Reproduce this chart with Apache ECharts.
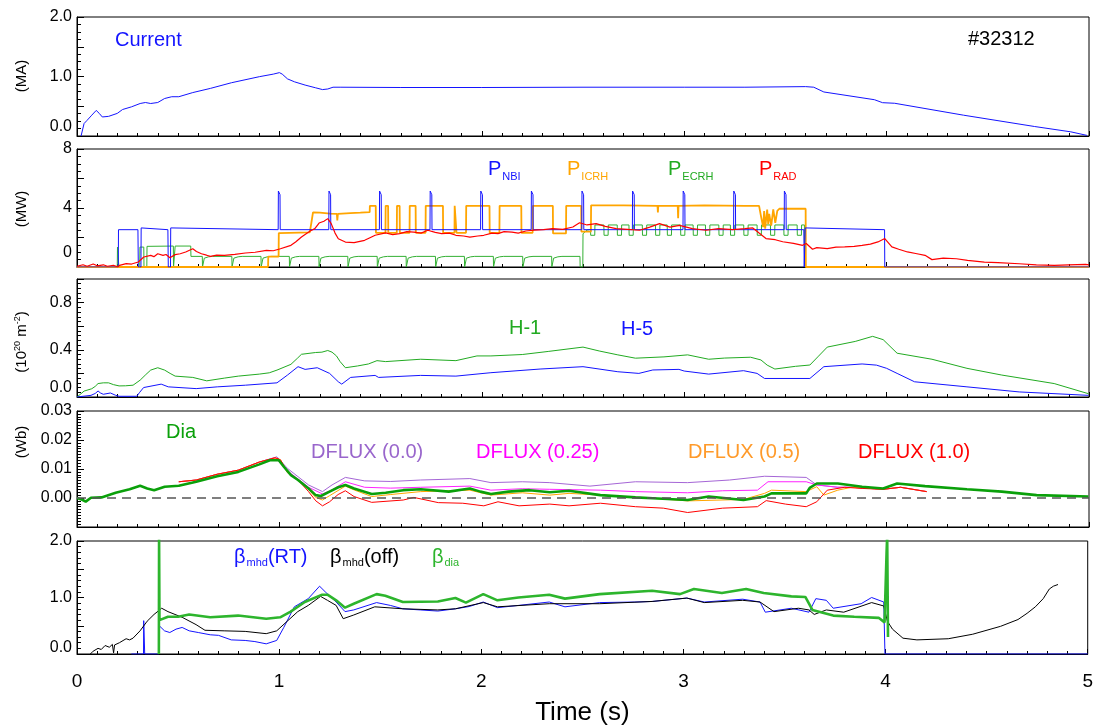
<!DOCTYPE html>
<html><head><meta charset="utf-8">
<script src="https://cdn.jsdelivr.net/npm/echarts@6/dist/echarts.min.js"></script>
<style>html,body{margin:0;padding:0;background:#fff}#c{width:1096px;height:727px}</style>
</head><body><div id="c"></div>
<script>
// ---------- tick labels ----------
const timeTicks = ['0','1','2','3','4','5'];
const p1Labels = ['0.0','1.0','2.0'];
const p2Labels = ['0','4','8'];
const p3Labels = ['0.0','0.4','0.8'];
const p4Labels = ['0.00','0.01','0.02','0.03'];
const p5Labels = ['0.0','1.0','2.0'];

// ---------- panel 1: plasma current (MA) ----------
const current = [[0.02,0],[0.035,0.21],[0.049,0.26],[0.073,0.35],[0.095,0.43],[0.11,0.38],[0.125,0.32],[0.156,0.33],[0.199,0.38],[0.225,0.445],[0.269,0.49],[0.312,0.546],[0.338,0.563],[0.364,0.546],[0.399,0.563],[0.433,0.63],[0.468,0.66],[0.503,0.66],[0.572,0.73],[0.659,0.80],[0.763,0.895],[0.901,0.997],[0.97,1.04],[1.0,1.065],[1.014,1.04],[1.04,0.96],[1.075,0.91],[1.127,0.856],[1.179,0.81],[1.213,0.78],[1.239,0.79],[1.265,0.82],[1.30,0.82],[1.6,0.815],[2.0,0.815],[2.5,0.82],[3.0,0.82],[3.3,0.82],[3.60,0.83],[3.64,0.82],[3.69,0.74],[3.94,0.61],[3.98,0.56],[4.04,0.55],[4.38,0.35],[4.73,0.16],[4.91,0.07],[4.99,0.01]];

// ---------- panel 2: heating powers (MW) ----------
const nbiLevel = 2.53;
const nbiSpikeTop = 5.15;
const nbiStart = 0.205;
const nbiEnd = 3.99;
const nbiSpikes = [0.995,1.245,1.495,1.745,1.995,2.245,2.495,2.745,2.995,3.245,3.495];
const nbiGaps = [[0.303,0.316],[0.451,0.462],[3.593,3.597]];

const icrh = [[0,0],[0.944,0],[0.945,0.7],[0.996,0.7],[0.997,2.3],[1.15,2.35],[1.158,3.0],[1.166,3.7],[1.2,3.68],[1.25,3.62],[1.284,3.6],[1.286,3.15],[1.289,3.6],[1.35,3.65],[1.4,3.68],[1.446,3.72],[1.447,4.15],[1.476,4.15],[1.477,2.32],[1.524,2.32],[1.525,4.15],[1.537,4.15],[1.538,2.32],[1.580,2.32],[1.581,4.15],[1.594,4.15],[1.595,2.32],[1.643,2.32],[1.644,4.15],[1.673,4.15],[1.674,2.32],[1.722,2.32],[1.723,4.15],[1.808,4.15],[1.809,2.32],[1.865,2.32],[1.866,4.15],[1.874,4.15],[1.875,2.32],[1.922,2.32],[1.923,4.15],[2.038,4.15],[2.039,2.32],[2.087,2.32],[2.088,4.15],[2.195,4.15],[2.196,2.32],[2.251,2.32],[2.252,4.15],[2.351,4.15],[2.352,2.28],[2.416,2.28],[2.417,4.15],[2.491,4.15],[2.492,2.4],[2.539,2.4],[2.54,4.18],[2.7,4.18],[2.868,4.15],[2.87,3.7],[2.872,4.15],[2.968,4.15],[2.97,3.3],[2.972,4.15],[3.1,4.18],[3.3,4.15],[3.37,4.15],[3.38,3.4],[3.39,2.7],[3.395,3.8],[3.40,2.6],[3.41,3.9],[3.415,2.9],[3.42,3.6],[3.43,2.8],[3.44,3.9],[3.45,3.0],[3.46,3.8],[3.47,3.95],[3.6,3.95],[3.601,0],[5,0]];

const ecrhEarly = [[0,0],[0.199,0],[0.2,1.35],[0.206,1.35],[0.207,0],[0.31,0],[0.311,1.35],[0.33,1.35],[0.331,0],[0.345,0],[0.346,1.4],[0.476,1.42],[0.477,0],[0.484,0],[0.485,1.42],[0.562,1.42],[0.563,0.72]];
const ecrhLowLevel = 0.72;
const ecrhLowDrops = [0.620,0.766,0.910,1.050,1.196,1.339,1.484,1.627,1.772,1.915,2.058,2.203,2.346,2.486];
const ecrhMid = [[2.499,0],[2.5,2.26],[2.52,2.5],[2.537,2.55]];
const ecrhHigh = 2.85;
const ecrhHighLow = 2.15;
const ecrhHighDips = [2.548,2.614,2.680,2.738,2.804,2.869,2.927,2.993,3.055,3.116,3.182,3.239,3.305,3.371,3.437,3.503,3.569];
const ecrhEnd = [[3.594,2.85],[3.595,0],[5,0]];

const rad = [[0,0.05],[0.03,0.15],[0.05,0.05],[0.08,0.2],[0.1,0.08],[0.13,0.15],[0.15,0.05],[0.18,0.12],[0.2,0.02],[0.21,0.11],[0.243,0.23],[0.27,0.2],[0.303,0.34],[0.33,0.68],[0.364,0.79],[0.38,0.7],[0.399,0.9],[0.425,0.79],[0.44,0.85],[0.459,0.63],[0.485,0.84],[0.51,0.9],[0.537,1.02],[0.572,1.24],[0.59,1.05],[0.615,0.9],[0.64,0.8],[0.659,0.72],[0.69,0.8],[0.728,0.79],[0.78,0.85],[0.832,0.95],[0.88,1.0],[0.936,1.13],[0.97,1.1],[1.005,1.24],[1.057,1.47],[1.08,1.7],[1.109,2.03],[1.152,2.44],[1.175,2.6],[1.196,2.98],[1.22,3.1],[1.239,3.28],[1.256,2.94],[1.275,2.3],[1.291,1.92],[1.326,1.69],[1.369,1.65],[1.421,1.81],[1.45,2.0],[1.473,2.15],[1.525,2.31],[1.56,2.2],[1.594,2.26],[1.63,2.4],[1.664,2.37],[1.7,2.3],[1.733,2.49],[1.77,2.35],[1.802,2.26],[1.84,2.3],[1.872,2.15],[1.91,2.1],[1.941,2.03],[1.98,2.1],[2.01,2.15],[2.05,2.3],[2.08,2.26],[2.11,2.4],[2.149,2.37],[2.18,2.3],[2.218,2.44],[2.26,2.5],[2.305,2.53],[2.35,2.6],[2.4,2.55],[2.45,2.71],[2.483,3.0],[2.52,2.85],[2.565,2.94],[2.61,2.75],[2.664,2.6],[2.72,2.55],[2.779,2.49],[2.83,2.7],[2.878,2.94],[2.93,2.7],[2.977,2.82],[3.04,2.6],[3.108,2.49],[3.17,2.6],[3.24,2.53],[3.3,2.6],[3.339,2.65],[3.37,2.3],[3.404,1.93],[3.45,1.85],[3.487,1.71],[3.54,1.6],[3.585,1.47],[3.603,1.59],[3.634,1.2],[3.655,1.31],[3.707,1.24],[3.75,1.35],[3.793,1.36],[3.84,1.4],[3.879,1.47],[3.92,1.55],[3.957,1.7],[3.991,1.93],[4.026,1.36],[4.06,1.2],[4.103,1.02],[4.15,0.9],[4.19,0.79],[4.224,0.5],[4.28,0.6],[4.345,0.56],[4.4,0.45],[4.483,0.33],[4.55,0.3],[4.655,0.22],[4.74,0.15],[4.828,0.11],[4.9,0.15],[4.983,0.18],[5,0.15]];

// ---------- panel 3: line densities (1e20 m^-2) ----------
const h1 = [[0,0],[0.035,0.05],[0.073,0.07],[0.09,0.09],[0.104,0.114],[0.13,0.12],[0.156,0.12],[0.18,0.105],[0.208,0.094],[0.24,0.095],[0.277,0.1],[0.312,0.143],[0.34,0.19],[0.364,0.228],[0.399,0.248],[0.433,0.228],[0.46,0.2],[0.485,0.177],[0.572,0.166],[0.641,0.137],[0.728,0.16],[0.797,0.177],[0.901,0.194],[0.95,0.205],[0.988,0.228],[1.057,0.277],[1.09,0.33],[1.109,0.362],[1.179,0.377],[1.21,0.38],[1.239,0.394],[1.26,0.38],[1.282,0.348],[1.3,0.3],[1.326,0.248],[1.386,0.263],[1.44,0.28],[1.482,0.308],[1.525,0.3],[1.698,0.32],[1.872,0.308],[1.976,0.348],[2.045,0.348],[2.2,0.36],[2.328,0.386],[2.5,0.423],[2.58,0.39],[2.672,0.357],[2.759,0.329],[2.9,0.34],[3.017,0.357],[3.121,0.32],[3.2,0.33],[3.328,0.337],[3.379,0.314],[3.41,0.27],[3.448,0.237],[3.55,0.26],[3.621,0.271],[3.66,0.34],[3.707,0.423],[3.845,0.471],[3.931,0.514],[3.983,0.486],[4.052,0.371],[4.224,0.32],[4.397,0.243],[4.569,0.186],[4.828,0.114],[4.997,0.028]];
const h5 = [[0,0],[0.069,0.014],[0.09,0.03],[0.104,0.051],[0.115,0.035],[0.13,0.023],[0.165,0.034],[0.19,0.015],[0.208,0.006],[0.295,0.006],[0.31,0.04],[0.329,0.08],[0.416,0.109],[0.451,0.086],[0.589,0.071],[0.693,0.086],[0.832,0.1],[0.988,0.12],[1.04,0.186],[1.092,0.257],[1.127,0.234],[1.187,0.248],[1.248,0.2],[1.291,0.129],[1.308,0.109],[1.352,0.166],[1.473,0.183],[1.49,0.166],[1.698,0.183],[1.872,0.177],[2.045,0.206],[2.288,0.237],[2.5,0.257],[2.672,0.214],[2.776,0.2],[2.845,0.229],[2.974,0.234],[3.0,0.22],[3.121,0.194],[3.293,0.223],[3.36,0.2],[3.397,0.157],[3.621,0.157],[3.69,0.257],[3.879,0.28],[3.95,0.27],[4.0,0.243],[4.052,0.2],[4.138,0.129],[4.397,0.086],[4.655,0.043],[4.997,0.014]];

// ---------- panel 4: diamagnetic flux (Wb) ----------
const dia = [[0,0],[0.026,-0.0006],[0.043,-0.00126],[0.069,0.0001],[0.121,0.0002],[0.191,0.0018],[0.26,0.003],[0.312,0.0042],[0.347,0.0033],[0.381,0.0027],[0.433,0.0039],[0.503,0.0042],[0.589,0.0056],[0.693,0.0075],[0.797,0.009],[0.901,0.0116],[0.953,0.013],[0.997,0.013],[1.023,0.0107],[1.057,0.0079],[1.092,0.0062],[1.144,0.0033],[1.179,0.001],[1.205,0.0007],[1.248,0.0022],[1.291,0.0037],[1.326,0.0045],[1.369,0.0033],[1.456,0.0014],[1.525,0.0018],[1.612,0.0027],[1.698,0.003],[1.837,0.0022],[1.941,0.0033],[1.993,0.0022],[2.045,0.0014],[2.132,0.0022],[2.236,0.0027],[2.336,0.002],[2.431,0.0025],[2.586,0.001],[2.759,0.0002],[2.845,-0.0001],[3.017,-0.0007],[3.121,0.0005],[3.293,-0.0007],[3.397,0.0005],[3.431,0.0016],[3.603,0.0016],[3.62,0.0035],[3.655,0.005],[3.759,0.005],[3.879,0.0039],[3.983,0.0033],[4.052,0.005],[4.19,0.0041],[4.397,0.003],[4.569,0.0022],[4.741,0.001],[4.997,0.0005]];
const dfRamp = [[0.503,0.0056],[0.589,0.0062],[0.693,0.0082],[0.797,0.0096],[0.901,0.0124]];
const df10 = [[0.979,0.0139],[1.005,0.0132],[1.04,0.009],[1.092,0.0062],[1.144,0.0022],[1.18,-0.001],[1.213,-0.0027],[1.248,-0.0013],[1.29,0.0012],[1.326,0.0025],[1.369,0.0005],[1.456,-0.0015],[1.612,-0.0007],[1.664,0.0002],[1.785,-0.0016],[1.906,-0.0018],[2.01,-0.0027],[2.08,-0.0013],[2.184,-0.0027],[2.336,-0.0021],[2.431,-0.0027],[2.586,-0.0018],[2.759,-0.003],[2.897,-0.0035],[3.017,-0.005],[3.19,-0.0035],[3.362,-0.003],[3.405,-0.0009],[3.5,-0.0021],[3.603,-0.003],[3.655,-0.0013],[3.707,0.0027],[3.793,0.0037],[3.879,0.0033],[3.983,0.003],[4.069,0.0037],[4.198,0.0022]];
const df05 = [[0.979,0.0138],[1.005,0.0132],[1.04,0.0087],[1.092,0.0062],[1.144,0.003],[1.179,0.0002],[1.213,-0.0007],[1.248,0.0008],[1.326,0.0041],[1.369,0.0028],[1.456,0.0005],[1.55,0.0012],[1.698,0.0022],[1.941,0.0027],[2.045,0.001],[2.2,0.0018],[2.336,0.001],[2.431,0.0016],[2.586,0.001],[2.845,-0.0001],[3.017,-0.001],[3.293,-0.0005],[3.397,0.0016],[3.431,0.0027],[3.603,0.0022],[3.655,0.0039],[3.69,0.001],[3.759,0.0027],[3.828,0.0037],[3.983,0.003],[4.069,0.0037],[4.198,0.0022]];
const df025 = [[0.979,0.0139],[0.988,0.0139],[1.04,0.0094],[1.144,0.0037],[1.213,0.0014],[1.26,0.0028],[1.326,0.0056],[1.421,0.0037],[1.55,0.0034],[1.698,0.0037],[1.941,0.0041],[2.045,0.0027],[2.2,0.0032],[2.336,0.003],[2.586,0.0027],[2.759,0.0022],[3.017,0.0018],[3.19,0.0025],[3.362,0.0027],[3.414,0.0056],[3.603,0.0056],[3.655,0.0045],[3.759,0.0037],[3.828,0.0037],[3.983,0.003],[4.069,0.0037],[4.198,0.0022]];
const df00 = [[0.988,0.0142],[1.04,0.0102],[1.144,0.0045],[1.213,0.0022],[1.26,0.0045],[1.326,0.0071],[1.421,0.0059],[1.55,0.0057],[1.698,0.0062],[1.941,0.0067],[2.045,0.0053],[2.2,0.0056],[2.336,0.0053],[2.534,0.0041],[2.759,0.0056],[3.017,0.0053],[3.224,0.0062],[3.397,0.0075],[3.603,0.0071],[3.655,0.0045],[3.759,0.0037],[3.828,0.0037],[3.983,0.003],[4.069,0.0037],[4.198,0.0022]];

// ---------- panel 5: beta ----------
const betaRT = [[0.269,0],[0.329,0],[0.33,0.59],[0.334,0.59],[0.335,0],[0.405,0],[0.407,0.5],[0.433,0.41],[0.459,0.38],[0.49,0.44],[0.52,0.47],[0.555,0.41],[0.6,0.38],[0.659,0.34],[0.7,0.33],[0.763,0.25],[0.832,0.24],[0.88,0.22],[0.936,0.18],[0.988,0.24],[1.023,0.47],[1.075,0.835],[1.144,0.98],[1.2,1.2],[1.231,1.09],[1.282,0.92],[1.326,0.75],[1.369,0.78],[1.482,0.91],[1.55,0.86],[1.612,0.8],[1.698,0.78],[1.785,0.76],[1.872,0.8],[1.94,0.84],[2.01,0.92],[2.08,0.82],[2.184,0.86],[2.336,0.92],[2.414,0.835],[2.586,0.91],[2.759,0.92],[2.845,0.93],[3.017,0.99],[3.103,0.92],[3.293,0.97],[3.379,0.92],[3.405,0.74],[3.534,0.81],[3.621,0.74],[3.655,0.98],[3.707,0.95],[3.741,0.81],[3.879,0.89],[3.931,1.0],[3.991,0.92],[3.997,0],[5,0]];
const betaOff = [[0.066,0],[0.08,0.05],[0.104,0.1],[0.12,0.08],[0.139,0.15],[0.16,0.12],[0.175,0.17],[0.181,0.02],[0.186,0.16],[0.191,0.18],[0.21,0.2],[0.243,0.27],[0.26,0.25],[0.277,0.28],[0.312,0.41],[0.347,0.58],[0.381,0.7],[0.419,0.81],[0.45,0.75],[0.52,0.65],[0.589,0.52],[0.633,0.42],[0.728,0.41],[0.832,0.4],[0.936,0.36],[0.988,0.41],[1.04,0.58],[1.092,0.75],[1.144,0.86],[1.205,1.02],[1.239,0.95],[1.282,0.86],[1.317,0.625],[1.369,0.69],[1.473,0.835],[1.612,0.8],[1.785,0.78],[1.872,0.8],[2.01,0.91],[2.08,0.835],[2.336,0.89],[2.586,0.89],[2.845,0.93],[3.017,0.99],[3.103,0.91],[3.293,0.95],[3.379,0.92],[3.448,0.75],[3.569,0.81],[3.621,0.78],[3.647,0.7],[3.707,0.78],[3.793,0.74],[3.931,0.91],[3.991,0.85],[4.009,0.58],[4.034,0.44],[4.086,0.28],[4.155,0.25],[4.31,0.27],[4.431,0.35],[4.569,0.49],[4.655,0.61],[4.7,0.72],[4.741,0.835],[4.78,0.98],[4.81,1.15],[4.83,1.2],[4.853,1.23]];
const betaDia = [[0.405,0],[0.406,2.1],[0.408,0.6],[0.45,0.66],[0.5,0.66],[0.555,0.7],[0.659,0.65],[0.797,0.68],[0.936,0.625],[1.005,0.65],[1.057,0.75],[1.127,0.92],[1.213,1.05],[1.239,1.05],[1.282,0.95],[1.326,0.82],[1.369,0.89],[1.482,1.06],[1.525,1.03],[1.612,0.92],[1.785,0.93],[1.872,0.99],[1.924,0.91],[2.01,1.06],[2.08,0.95],[2.184,1.0],[2.336,1.05],[2.414,0.98],[2.586,1.06],[2.845,1.12],[2.983,1.06],[3.052,1.15],[3.19,1.08],[3.31,1.15],[3.397,1.08],[3.534,1.02],[3.603,1.01],[3.638,0.78],[3.741,0.68],[3.845,0.66],[3.966,0.64],[3.995,0.56],[4.005,1.8],[4.008,2.1],[4.012,0.3]];

// ---------- build step traces from read edges ----------
function buildNbi() {
  const ev = [];
  nbiSpikes.forEach(s => ev.push({t: s, k: 's'}));
  nbiGaps.forEach(g => ev.push({t: g[0], e: g[1], k: 'g'}));
  ev.sort((a, b) => a.t - b.t);
  const out = [[0,0],[nbiStart-0.001,0],[nbiStart,nbiLevel]];
  ev.forEach(e => {
    if (e.k === 's') {
      out.push([e.t-0.001,nbiLevel],[e.t,nbiSpikeTop],[e.t+0.008,nbiSpikeTop-0.25],[e.t+0.009,nbiLevel]);
    } else {
      out.push([e.t-0.002,nbiLevel],[e.t-0.001,nbiLevel+0.12],[e.t,0],[e.e,0],[e.e+0.001,nbiLevel+0.12],[e.e+0.002,nbiLevel]);
    }
  });
  out.push([nbiEnd,nbiLevel],[nbiEnd+0.001,0],[5,0]);
  return out;
}
function buildEcrh() {
  const out = ecrhEarly.slice();
  ecrhLowDrops.forEach((d, i) => {
    out.push([d-0.001,ecrhLowLevel],[d,0]);
    if (i < ecrhLowDrops.length - 1) {
      out.push([d+0.008,0],[d+0.009,0.6],[d+0.03,0.69],[d+0.05,ecrhLowLevel]);
    }
  });
  ecrhMid.forEach(p => out.push(p));
  ecrhHighDips.forEach(c => {
    out.push([c-0.011,ecrhHigh],[c-0.01,ecrhHighLow],[c+0.01,ecrhHighLow],[c+0.011,ecrhHigh]);
  });
  ecrhEnd.forEach(p => out.push(p));
  return out;
}

const FONT = "'Liberation Sans', Arial, Helvetica, sans-serif";
const grids = [
  {left:77, right:7, top:17, height:119},
  {left:77, right:7, top:149, height:118},
  {left:77, right:7, top:279, height:118},
  {left:77, right:7, top:411, height:116},
  {left:77, right:7, top:541, height:118}
].map(g => Object.assign({show:true, borderColor:'#000', borderWidth:1, backgroundColor:'transparent'}, g));

function xAx(i, last) {
  return {
    type:'value', gridIndex:i, min:0, max:5, interval:1,
    axisLine:{show:true, onZero:false, lineStyle:{color:'#000', width:1}},
    axisTick:{show:true, inside:true, length:5, lineStyle:{color:'#000', width:1}},
    minorTick:{show:true, splitNumber:10, length:3, lineStyle:{color:'#000', width:1}},
    splitLine:{show:false},
    axisLabel:{show:last, margin:18, fontSize:19, color:'#000', fontFamily:FONT,
      formatter: v => timeTicks[Math.round(v)]},
    name: last ? 'Time (s)' : '', nameLocation:'middle', nameGap:46,
    nameTextStyle:{fontSize:26, color:'#000', fontFamily:FONT}
  };
}
function yAx(i, min, max, interval, minorSplit, labels, digits, loPad) {
  return {
    type:'value', gridIndex:i, min:min, max:max, interval:interval,
    axisLine:{show:true, onZero:false, lineStyle:{color:'#000', width:1}},
    axisTick:{show:true, inside:true, length:7, lineStyle:{color:'#000', width:1}},
    minorTick:{show:true, splitNumber:minorSplit, length:4, lineStyle:{color:'#000', width:1}},
    splitLine:{show:false},
    axisLabel:{show:true, margin:5, color:'#000', fontSize:16, fontFamily:FONT,
      formatter: function (v) {
        const s = digits === 0 ? String(Math.round(v)) : v.toFixed(digits);
        if (labels.indexOf(s) < 0) return '';
        if (Math.abs(v - min) < 1e-9) return '{lo|' + s + '}';
        return s;
      },
      rich:{lo:{fontSize:16, fontFamily:FONT, color:'#000', padding:[0,0,loPad,0]}}
    }
  };
}

function L(data, idx, color, width, z) {
  return {type:'line', data:data, xAxisIndex:idx, yAxisIndex:idx, showSymbol:false, symbol:'none',
    lineStyle:{color:color, width:width}, itemStyle:{color:color}, animation:false, silent:true, z:z || 2};
}

const BLUE = '#1414ff', GREEN = '#22aa22', ORANGE = '#ffa500', RED = '#ff0000';

const series = [
  L(current, 0, BLUE, 1),
  L(buildEcrh(), 1, '#33b033', 1),
  L(icrh, 1, ORANGE, 1.8),
  L(buildNbi(), 1, BLUE, 1),
  L(rad, 1, RED, 1.2),
  L(h1, 2, GREEN, 1),
  L(h5, 2, BLUE, 1),
  L(dfRamp.concat(df00), 3, '#a566d6', 1),
  L(dfRamp.concat(df025), 3, '#ff22ff', 1),
  L(dfRamp.concat(df05), 3, ORANGE, 1),
  L(dfRamp.concat(df10), 3, RED, 1),
  Object.assign(L(dia, 3, '#0aa00a', 2.6, 3), {
    markLine:{silent:true, symbol:['none','none'], label:{show:false}, animation:false,
      lineStyle:{color:'#555', type:[9,6], width:1.5}, data:[{yAxis:0}]}
  }),
  L(betaRT, 4, BLUE, 1),
  L(betaOff, 4, '#000', 1),
  L(betaDia, 4, '#2db52d', 2.6, 3)
];

function t(x, y, text, color) {
  return {type:'text', x:x, y:y, z:100, silent:true,
    style:{text:text, fill:color, fontSize:20, fontFamily:FONT, textAlign:'left', textVerticalAlign:'middle'}};
}
const richStyles = {
  b:{fontSize:20, fontFamily:FONT, lineHeight:22},
  s:{fontSize:11, fontFamily:FONT, lineHeight:11, padding:[16,0,0,1]},
  u:{fontSize:11, fontFamily:FONT, lineHeight:11, padding:[12,0,0,1]}
};
function r(x, y, text, color) {
  return {type:'text', x:x, y:y, z:100, silent:true,
    style:{text:text, fill:color, fontSize:20, fontFamily:FONT, textAlign:'left', textVerticalAlign:'middle', rich:richStyles}};
}
function yName(x, y, text) {
  return {type:'text', x:x, y:y, rotation:Math.PI/2, z:100, silent:true,
    style:{text:text, fill:'#000', fontSize:15, fontFamily:FONT, textAlign:'center', textVerticalAlign:'middle',
      rich:{sup:{fontSize:9, fontFamily:FONT, lineHeight:9, padding:[0,0,8,0]}}}};
}

const graphic = [
  t(115, 40, 'Current', BLUE),
  t(968, 39, '#32312', '#000'),
  r(488, 169, '{b|P}{s|NBI}', BLUE),
  r(567, 169, '{b|P}{s|ICRH}', ORANGE),
  r(668, 169, '{b|P}{s|ECRH}', GREEN),
  r(759, 169, '{b|P}{s|RAD}', RED),
  t(509, 328, 'H-1', GREEN),
  t(621, 329, 'H-5', BLUE),
  t(166, 432, 'Dia', '#0aa00a'),
  t(311, 452, 'DFLUX (0.0)', '#9966cc'),
  t(476, 452, 'DFLUX (0.25)', '#ff00ff'),
  t(688, 452, 'DFLUX (0.5)', '#ff9a2a'),
  t(858, 452, 'DFLUX (1.0)', RED),
  r(234, 557, '{b|β}{u|mhd}{b|(RT)}', BLUE),
  r(330, 557, '{b|β}{u|mhd}{b|(off)}', '#000'),
  r(432, 557, '{b|β}{u|dia}', '#2db52d'),
  yName(22, 76, '(MA)'),
  yName(22, 209, '(MW)'),
  yName(22, 342, '(10{sup|20} m{sup|-2})'),
  yName(22, 442, '(Wb)')
];

const option = {
  backgroundColor:'#fff',
  animation:false,
  grid: grids,
  xAxis: [xAx(0,false), xAx(1,false), xAx(2,false), xAx(3,false), xAx(4,true)],
  yAxis: [
    yAx(0, 0, 2, 0.5, 4, p1Labels, 1, 18),
    yAx(1, 0, 8, 2, 4, p2Labels, 0, 28),
    yAx(2, 0, 1, 0.2, 5, p3Labels, 1, 18),
    yAx(3, -0.01, 0.03, 0.01, 10, p4Labels, 2, 0),
    yAx(4, 0, 2, 0.5, 5, p5Labels, 1, 12)
  ],
  series: series,
  graphic: graphic
};
const chart = echarts.init(document.getElementById('c'), null, {renderer:'canvas', width:1096, height:727});
chart.setOption(option);
</script></body></html>
